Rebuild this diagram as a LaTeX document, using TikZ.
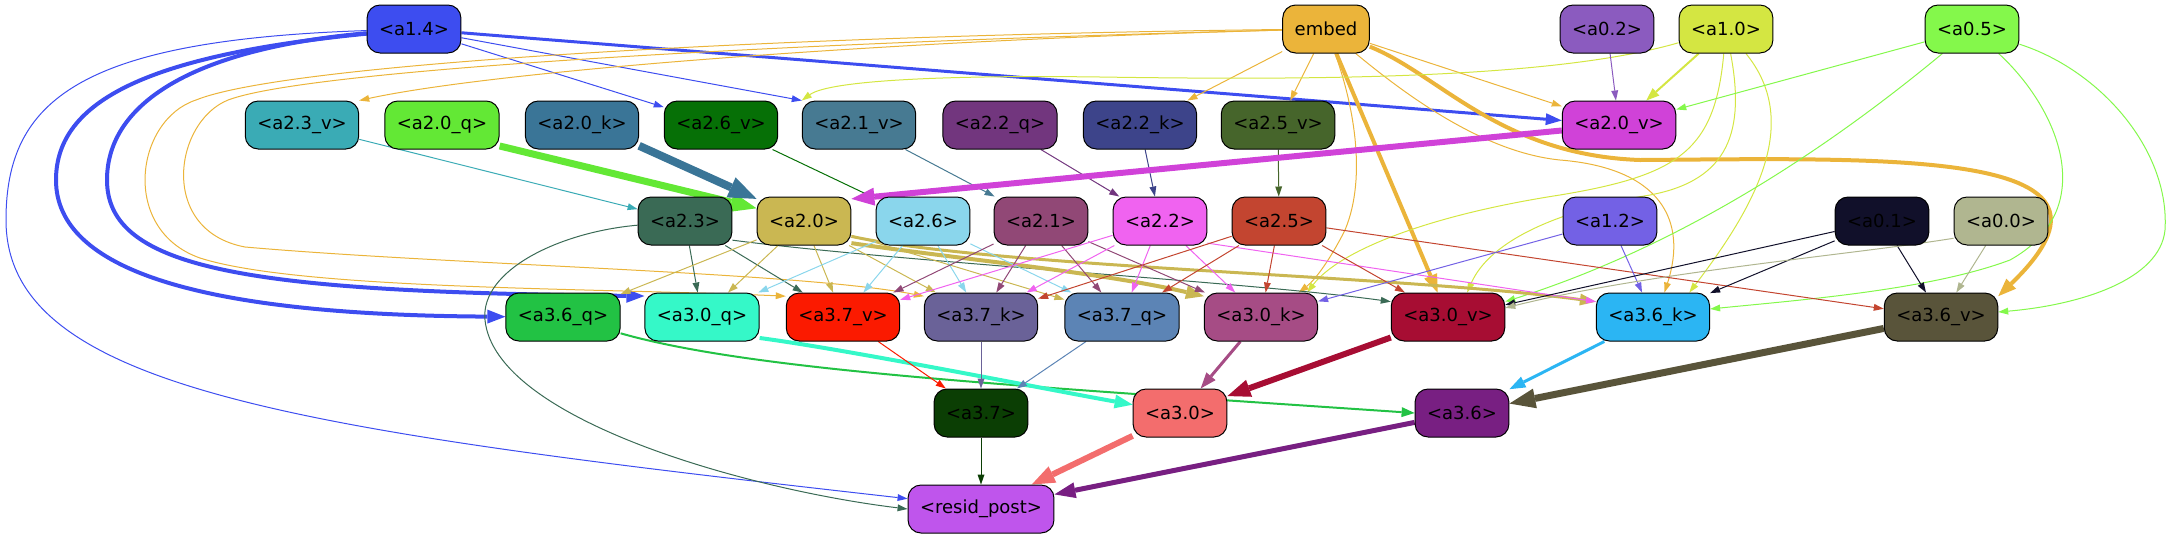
\documentclass[tikz,border=0pt]{standalone}
\usepackage{fontspec}
\setmainfont{DejaVu Sans}
\usetikzlibrary{arrows.meta}
\definecolor{c14}{HTML}{3D4DF0}
\definecolor{cemb}{HTML}{EBB43A}
\definecolor{c02}{HTML}{8B5BBF}
\definecolor{c10}{HTML}{D4E642}
\definecolor{c05}{HTML}{84F84B}
\definecolor{c23v}{HTML}{3AABB5}
\definecolor{c20q}{HTML}{63E835}
\definecolor{c20k}{HTML}{3A7597}
\definecolor{c26v}{HTML}{067006}
\definecolor{c21v}{HTML}{477A92}
\definecolor{c22q}{HTML}{72367E}
\definecolor{c22k}{HTML}{3D448A}
\definecolor{c25v}{HTML}{46652B}
\definecolor{c20v}{HTML}{D042D8}
\definecolor{c23}{HTML}{3A6A55}
\definecolor{c20}{HTML}{CAB752}
\definecolor{c26}{HTML}{8AD6EC}
\definecolor{c21}{HTML}{914876}
\definecolor{c22}{HTML}{F063F0}
\definecolor{c25}{HTML}{C34530}
\definecolor{c12}{HTML}{7361E5}
\definecolor{c01}{HTML}{11102A}
\definecolor{c00}{HTML}{B0B690}
\definecolor{c36q}{HTML}{22C244}
\definecolor{c30q}{HTML}{35F8C8}
\definecolor{c37v}{HTML}{FB1A00}
\definecolor{c37k}{HTML}{6A6298}
\definecolor{c37q}{HTML}{5C84B5}
\definecolor{c30k}{HTML}{A64C85}
\definecolor{c30v}{HTML}{A70D33}
\definecolor{c36k}{HTML}{2BB5F3}
\definecolor{c36v}{HTML}{59543A}
\definecolor{c37}{HTML}{0B3E04}
\definecolor{c30}{HTML}{F36D6D}
\definecolor{c36}{HTML}{781F82}
\definecolor{cres}{HTML}{BF55EC}
\pgfdeclarelayer{bg}
\pgfsetlayers{bg,main}
\tikzset{
 box/.style={draw=black, line width=1pt, rounded corners=13pt, minimum height=48pt, inner xsep=12pt, inner ysep=0pt, font=\fontsize{18}{21}\selectfont, text=black},
 w1/.style={line width=1pt,-{Triangle[length=10pt,width=7pt,line width=0pt]}},
 w2/.style={line width=2pt,-{Triangle[length=13pt,width=10pt,line width=0pt]}},
 w3/.style={line width=3pt,-{Triangle[length=16pt,width=12pt,line width=0pt]}},
 w4/.style={line width=4pt,-{Triangle[length=18pt,width=14pt,line width=0pt]}},
 w5/.style={line width=5pt,-{Triangle[length=21pt,width=16pt,line width=0pt]}},
 w6/.style={line width=6pt,-{Triangle[length=23pt,width=18pt,line width=0pt]}},
 w7/.style={line width=7pt,-{Triangle[length=26pt,width=20pt,line width=0pt]}},
 w8/.style={line width=8pt,-{Triangle[length=28pt,width=22pt,line width=0pt]}},
}
\begin{document}
\begin{tikzpicture}[x=1pt,y=-1pt]
\useasboundingbox (0,0) rectangle (2177,539);
% row 1
\node[box,fill=c14] (a14) at (414,29) {<a1.4>};
\node[box,fill=cemb] (embed) at (1326,29) {embed};
\node[box,fill=c02] (a02) at (1607,29) {<a0.2>};
\node[box,fill=c10] (a10) at (1726,29) {<a1.0>};
\node[box,fill=c05] (a05) at (1972,29) {<a0.5>};
% row 2
\node[box,fill=c23v] (a23v) at (302,125) {<a2.3\_v>};
\node[box,fill=c20q] (a20q) at (442,125) {<a2.0\_q>};
\node[box,fill=c20k] (a20k) at (582,125) {<a2.0\_k>};
\node[box,fill=c26v] (a26v) at (721,125) {<a2.6\_v>};
\node[box,fill=c21v] (a21v) at (859,125) {<a2.1\_v>};
\node[box,fill=c22q] (a22q) at (1000,125) {<a2.2\_q>};
\node[box,fill=c22k] (a22k) at (1140,125) {<a2.2\_k>};
\node[box,fill=c25v] (a25v) at (1278,125) {<a2.5\_v>};
\node[box,fill=c20v] (a20v) at (1619,125) {<a2.0\_v>};
% row 3
\node[box,fill=c23] (a23) at (685,221) {<a2.3>};
\node[box,fill=c20] (a20) at (804,221) {<a2.0>};
\node[box,fill=c26] (a26) at (923,221) {<a2.6>};
\node[box,fill=c21] (a21) at (1041,221) {<a2.1>};
\node[box,fill=c22] (a22) at (1160,221) {<a2.2>};
\node[box,fill=c25] (a25) at (1279,221) {<a2.5>};
\node[box,fill=c12] (a12) at (1610,221) {<a1.2>};
\node[box,fill=c01] (a01) at (1882,221) {<a0.1>};
\node[box,fill=c00] (a00) at (2001,221) {<a0.0>};
% row 4
\node[box,fill=c36q] (a36q) at (563,317) {<a3.6\_q>};
\node[box,fill=c30q] (a30q) at (702,317) {<a3.0\_q>};
\node[box,fill=c37v] (a37v) at (843,317) {<a3.7\_v>};
\node[box,fill=c37k] (a37k) at (981,317) {<a3.7\_k>};
\node[box,fill=c37q] (a37q) at (1122,317) {<a3.7\_q>};
\node[box,fill=c30k] (a30k) at (1261,317) {<a3.0\_k>};
\node[box,fill=c30v] (a30v) at (1448,317) {<a3.0\_v>};
\node[box,fill=c36k] (a36k) at (1653,317) {<a3.6\_k>};
\node[box,fill=c36v] (a36v) at (1941,317) {<a3.6\_v>};
% row 5
\node[box,fill=c37] (a37) at (981,413) {<a3.7>};
\node[box,fill=c30] (a30) at (1180,413) {<a3.0>};
\node[box,fill=c36] (a36) at (1462,413) {<a3.6>};
% row 6
\node[box,fill=cres] (resid) at (981,509) {<resid\_post>};

\begin{pgfonlayer}{bg}
% a1.4
\draw[w4,c14] (a14) .. controls (150,55) and (56,100) .. (56,180) .. controls (56,270) and (200,315) .. (a36q);
\draw[w4,c14] (a14) .. controls (200,48) and (107,100) .. (107,180) .. controls (107,270) and (250,292) .. (a30q.160);
\draw[w1,c14] (a14) .. controls (80,40) and (6,100) .. (6,220) .. controls (6,390) and (300,430) .. (resid.172);
\draw[w3,c14] (a14) -- (a20v);
\draw[w1,c14] (a14) -- (a26v);
\draw[w1,c14] (a14) -- (a21v.north west);
% embed
\draw[w1,cemb] (embed) .. controls (900,40) and (500,70) .. (a23v.north east);
\draw[w1,cemb] (embed) .. controls (800,35) and (290,62) .. (196,100) .. controls (135,120) and (120,230) .. (200,258) .. controls (300,290) and (600,288) .. (a37v.160);
\draw[w1,cemb] (embed) .. controls (800,42) and (330,68) .. (234,98) .. controls (175,114) and (155,230) .. (245,247) .. controls (450,265) and (800,272) .. (a37k.160);
\draw[w1,cemb] (embed) -- (a22k);
\draw[w1,cemb] (embed) -- (a25v);
\draw[w1,cemb] (embed) -- (a20v);
\draw[w4,cemb] (embed) -- (a30v);
\draw[w4,cemb] (embed) .. controls (1440,75) and (1500,155) .. (1640,160) .. controls (1900,158) and (2150,150) .. (a36v.20);
\draw[w1,cemb] (embed) .. controls (1352,100) and (1368,175) .. (1345,230) .. controls (1330,260) and (1315,280) .. (a30k.33);
\draw[w1,cemb] (embed) .. controls (1400,90) and (1480,152) .. (1560,160) .. controls (1660,168) and (1688,220) .. (a36k.65);
% a1.0
\draw[w2,c10] (a10) -- (a20v);
\draw[w1,c10] (a10) .. controls (1550,80) and (1300,80) .. (1100,77) .. controls (950,75) and (830,80) .. (a21v.north west);
\draw[w1,c10] (a10) .. controls (1715,150) and (1680,175) .. (1560,195) .. controls (1430,215) and (1340,250) .. (a30k.28);
\draw[w1,c10] (a10) .. controls (1745,130) and (1730,180) .. (1650,195) .. controls (1560,210) and (1490,240) .. (a30v.52);
\draw[w1,c10] (a10) .. controls (1800,120) and (1760,200) .. (a36k.34);
% a0.2, a0.5
\draw[w1,c02] (a02) -- (a20v);
\draw[w1,c05] (a05) -- (a20v);
\draw[w1,c05] (a05) .. controls (1850,130) and (1700,240) .. (a30v.15);
\draw[w1,c05] (a05) .. controls (2060,110) and (2100,210) .. (2010,260) .. controls (1930,290) and (1800,300) .. (a36k.8);
\draw[w1,c05] (a05) .. controls (2100,70) and (2170,150) .. (2165,230) .. controls (2160,280) and (2080,305) .. (a36v.5);
% row 2 -> row 3
\draw[w1,c23v] (a23v) -- (a23);
\draw[w7,c20q] (a20q.-20) -- (a20.165);
\draw[w8,c20k] (a20k.-20) -- (a20.155);
\draw[w1,c26v] (a26v) -- (a26);
\draw[w1,c21v] (a21v) -- (a21);
\draw[w1,c22q] (a22q) -- (a22);
\draw[w1,c22k] (a22k) -- (a22);
\draw[w1,c25v] (a25v) -- (a25);
\draw[w6,c20v] (a20v) -- (a20.25);
% a2.3
\draw[w1,c23] (a23) -- (a30q);
\draw[w1,c23] (a23) -- (a37v);
\draw[w1,c23] (a23.-22) .. controls (900,262) and (1250,282) .. (a30v.165);
\draw[w1,c23] (a23) .. controls (560,232) and (480,270) .. (485,320) .. controls (495,420) and (750,490) .. (resid.west);
% a2.0
\draw[w1,c20] (a20) -- (a36q);
\draw[w1,c20] (a20) -- (a30q);
\draw[w1,c20] (a20) -- (a37v);
\draw[w1,c20] (a20) -- (a37k);
\draw[w1,c20] (a20) -- (a37q);
\draw[w4,c20] (a20.-25) .. controls (950,258) and (1100,272) .. (a30k.160);
\draw[w3,c20] (a20.-18) .. controls (1000,268) and (1400,275) .. (a36k.165);
% a2.6
\draw[w1,c26] (a26) -- (a30q);
\draw[w1,c26] (a26) -- (a37v);
\draw[w1,c26] (a26) -- (a37k);
\draw[w1,c26] (a26) -- (a37q);
% a2.1
\draw[w1,c21] (a21) -- (a37v);
\draw[w1,c21] (a21) -- (a37k);
\draw[w1,c21] (a21) -- (a37q);
\draw[w1,c21] (a21) -- (a30k);
% a2.2
\draw[w1,c22] (a22) -- (a37v);
\draw[w1,c22] (a22) -- (a37k);
\draw[w1,c22] (a22) -- (a37q);
\draw[w1,c22] (a22) -- (a30k);
\draw[w1,c22] (a22.-25) -- (a36k.165);
% a2.5
\draw[w1,c25] (a25) -- (a37k);
\draw[w1,c25] (a25) -- (a37q);
\draw[w1,c25] (a25) -- (a30k);
\draw[w1,c25] (a25) -- (a30v);
\draw[w1,c25] (a25) -- (a36v);
% a1.2
\draw[w1,c12] (a12) -- (a30k);
\draw[w1,c12] (a12) -- (a36k);
% a0.1
\draw[w1,c01] (a01) -- (a30v.12);
\draw[w1,c01] (a01) -- (a36k);
\draw[w1,c01] (a01) -- (a36v);
% a0.0
\draw[w1,c00] (a00.200) .. controls (1850,255) and (1650,272) .. (a30v.9);
\draw[w1,c00] (a00) -- (a36v);
% row 4 -> row 5
\draw[w2,c36q] (a36q) .. controls (750,370) and (1000,385) .. (a36.west);
\draw[w4,c30q] (a30q.-20) .. controls (850,350) and (1050,390) .. (a30.170);
\draw[w1,c37v] (a37v) -- (a37);
\draw[w1,c37k] (a37k) -- (a37);
\draw[w1,c37q] (a37q) -- (a37);
\draw[w3,c30k] (a30k) -- (a30);
\draw[w6,c30v] (a30v) -- (a30);
\draw[w3,c36k] (a36k) -- (a36);
\draw[w7,c36v] (a36v) -- (a36);
% row 5 -> row 6
\draw[w1,c37] (a37) -- (resid);
\draw[w6,c30] (a30) -- (resid);
\draw[w5,c36] (a36) -- (resid);
\end{pgfonlayer}
\end{tikzpicture}
\end{document}
